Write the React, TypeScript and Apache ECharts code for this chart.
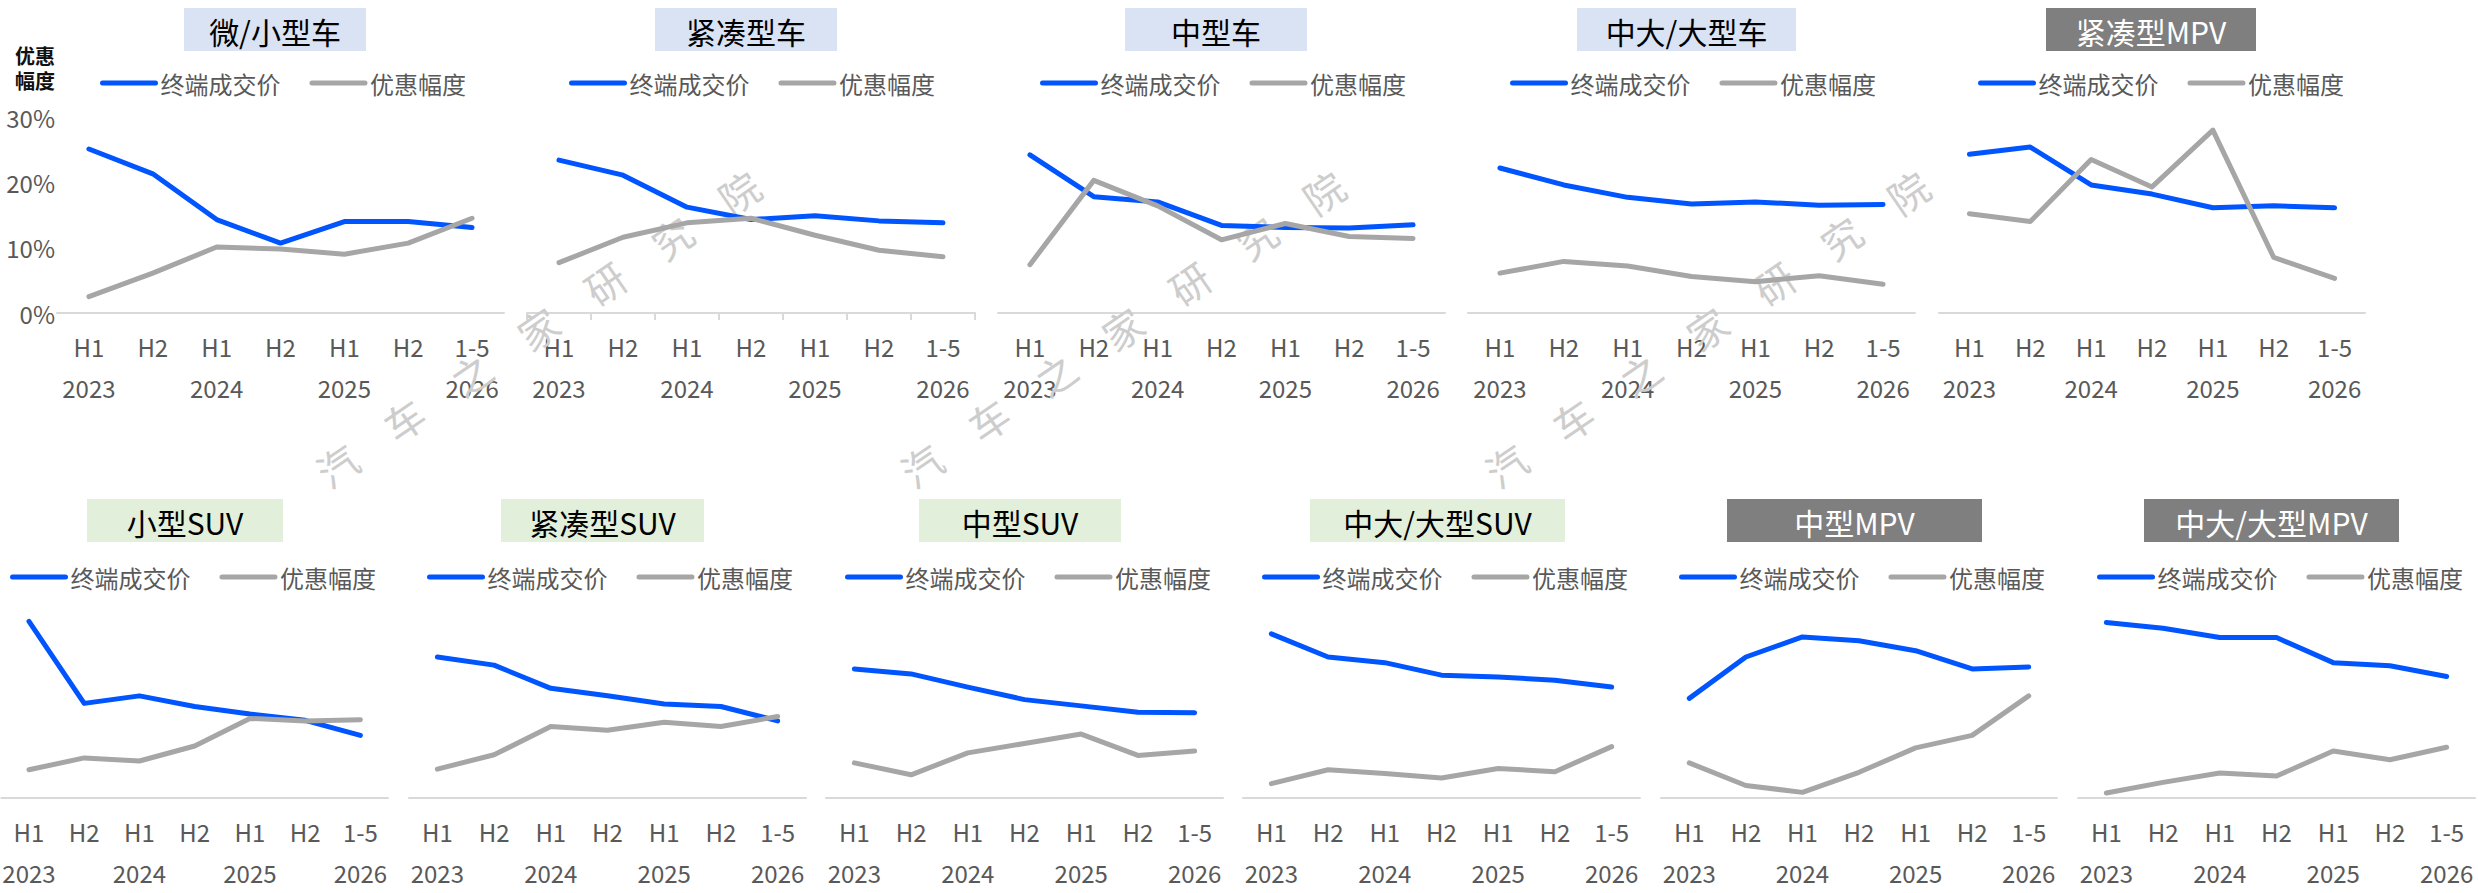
import React, { useEffect, useRef } from 'react';
import * as echarts from 'echarts';

// ---------- data ----------
const periods = ['H1', 'H2', 'H1', 'H2', 'H1', 'H2', '1-5'];
const years = ['2023', '', '2024', '', '2025', '', '2026'];
const yTicks = [0, 10, 20, 30];

const segmentNames = [
  '微/小型车', '紧凑型车', '中型车', '中大/大型车', '紧凑型MPV',
  '小型SUV', '紧凑型SUV', '中型SUV', '中大/大型SUV', '中型MPV', '中大/大型MPV',
];

// 终端成交价 (blue) and 优惠幅度 (gray), in the chart's % units
const priceMicroCar = [25.1, 21.3, 14.3, 10.7, 14.0, 14.0, 13.1];
const discountMicroCar = [2.5, 6.1, 10.1, 9.8, 9.0, 10.7, 14.5];
const priceCompactCar = [23.4, 21.1, 16.2, 14.3, 14.9, 14.1, 13.8];
const discountCompactCar = [7.7, 11.6, 13.8, 14.5, 11.9, 9.6, 8.6];
const priceMidCar = [24.2, 17.8, 17.0, 13.4, 13.1, 13.0, 13.5];
const discountMidCar = [7.4, 20.3, 16.4, 11.2, 13.7, 11.7, 11.4];
const priceLargeCar = [22.2, 19.6, 17.7, 16.7, 17.0, 16.5, 16.6];
const discountLargeCar = [6.1, 7.9, 7.2, 5.6, 4.8, 5.7, 4.4];
const priceCompactMPV = [24.3, 25.4, 19.6, 18.2, 16.1, 16.4, 16.1];
const discountCompactMPV = [15.2, 14.0, 23.5, 19.3, 28.0, 8.5, 5.3];
const priceSmallSUV = [28.2, 15.1, 16.3, 14.6, 13.4, 12.4, 10.0];
const discountSmallSUV = [4.5, 6.4, 5.9, 8.3, 12.7, 12.3, 12.5];
const priceCompactSUV = [22.5, 21.2, 17.5, 16.3, 15.0, 14.6, 12.3];
const discountCompactSUV = [4.6, 6.9, 11.4, 10.8, 12.1, 11.4, 13.0];
const priceMidSUV = [20.6, 19.8, 17.7, 15.7, 14.7, 13.7, 13.6];
const discountMidSUV = [5.6, 3.7, 7.2, 8.7, 10.2, 6.8, 7.5];
const priceLargeSUV = [26.2, 22.5, 21.6, 19.6, 19.3, 18.8, 17.7];
const discountLargeSUV = [2.3, 4.5, 3.9, 3.2, 4.7, 4.2, 8.2];
const priceMidMPV = [15.9, 22.5, 25.7, 25.1, 23.5, 20.6, 20.9];
const discountMidMPV = [5.6, 2.0, 0.9, 4.1, 8.0, 10.0, 16.3];
const priceLargeMPV = [28.0, 27.1, 25.6, 25.6, 21.6, 21.1, 19.4];
const discountLargeMPV = [0.8, 2.5, 4.0, 3.5, 7.5, 6.1, 8.1];

const priceSeries = [
  priceMicroCar, priceCompactCar, priceMidCar, priceLargeCar, priceCompactMPV,
  priceSmallSUV, priceCompactSUV, priceMidSUV, priceLargeSUV, priceMidMPV, priceLargeMPV,
];
const discountSeries = [
  discountMicroCar, discountCompactCar, discountMidCar, discountLargeCar, discountCompactMPV,
  discountSmallSUV, discountCompactSUV, discountMidSUV, discountLargeSUV, discountMidMPV, discountLargeMPV,
];

const priceName = '终端成交价';
const discountName = '优惠幅度';
const watermarkChars = ['汽', '车', '之', '家', '研', '究', '院'];

// ---------- layout / style ----------
const FONT = '"Microsoft YaHei", "Noto Sans CJK SC", sans-serif';
const BLUE = '#0055FF';
const GRAY = '#A6A6A6';
const LABEL = '#595959';
const AXIS = '#D9D9D9';

const panels = [
  { row: 0, left: 57, width: 447, legend: 100, title: [184, 366], theme: 'car', ticks: false },
  { row: 0, left: 527, width: 448, legend: 569, title: [655, 837], theme: 'car', ticks: true },
  { row: 0, left: 998, width: 447, legend: 1040, title: [1125, 1307], theme: 'car', ticks: false },
  { row: 0, left: 1468, width: 447, legend: 1510, title: [1577, 1796], theme: 'car', ticks: false },
  { row: 0, left: 1939, width: 426, legend: 1978, title: [2046, 2256], theme: 'mpv', ticks: false },
  { row: 1, left: -8, width: 396, legend: 10, title: [87, 283], theme: 'suv', ticks: false },
  { row: 1, left: 409, width: 397, legend: 427, title: [501, 704], theme: 'suv', ticks: false },
  { row: 1, left: 826, width: 397, legend: 845, title: [919, 1121], theme: 'suv', ticks: false },
  { row: 1, left: 1243, width: 397, legend: 1262, title: [1310, 1565], theme: 'suv', ticks: false },
  { row: 1, left: 1661, width: 396, legend: 1679, title: [1727, 1982], theme: 'mpv', ticks: false },
  { row: 1, left: 2078, width: 397, legend: 2097, title: [2144, 2399], theme: 'mpv', ticks: false },
];
const rows = [
  { gridTop: 117, legendTop: 71, titleTop: 8 },
  { gridTop: 610, legendTop: 565, titleTop: 499 },
];
const GRID_H = 196;
const TITLE_H = 43;
const themes: Record<string, { bg: string; fg: string }> = {
  car: { bg: '#DAE3F3', fg: '#000000' },
  suv: { bg: '#E2EFDA', fg: '#000000' },
  mpv: { bg: '#7F7F7F', fg: '#FFFFFF' },
};

function buildOption() {
  const grid: any[] = [];
  const xAxis: any[] = [];
  const yAxis: any[] = [];
  const series: any[] = [];
  const legend: any[] = [];
  const graphic: any[] = [];

  panels.forEach((p, i) => {
    const r = rows[p.row];
    grid.push({ left: p.left, top: r.gridTop, width: p.width, height: GRID_H, containLabel: false });
    xAxis.push({
      type: 'category',
      gridIndex: i,
      data: periods,
      boundaryGap: true,
      axisLine: { show: true, lineStyle: { color: AXIS, width: 2 } },
      axisTick: { show: p.ticks, length: 7, lineStyle: { color: AXIS, width: 2 } },
      axisLabel: {
        interval: 0,
        margin: 13,
        fontSize: 24,
        lineHeight: 41,
        color: LABEL,
        fontFamily: FONT,
        formatter: (v: string, idx: number) => (years[idx] ? `${v}\n${years[idx]}` : v),
      },
      splitLine: { show: false },
    });
    yAxis.push({
      type: 'value',
      gridIndex: i,
      min: yTicks[0],
      max: yTicks[yTicks.length - 1],
      interval: 10,
      show: i === 0,
      axisLine: { show: false },
      axisTick: { show: false },
      splitLine: { show: false },
      axisLabel: {
        show: i === 0,
        margin: 2,
        fontSize: 24,
        color: LABEL,
        fontFamily: FONT,
        formatter: '{value}%',
      },
    });
    const lineCommon = {
      type: 'line',
      xAxisIndex: i,
      yAxisIndex: i,
      symbol: 'none',
      showSymbol: false,
      silent: true,
      z: 3,
    };
    series.push({
      ...lineCommon,
      name: priceName,
      data: priceSeries[i],
      color: BLUE,
      lineStyle: { color: BLUE, width: 5, cap: 'round', join: 'round' },
    });
    series.push({
      ...lineCommon,
      name: discountName,
      data: discountSeries[i],
      color: GRAY,
      lineStyle: { color: GRAY, width: 5, cap: 'round', join: 'round' },
    });
    legend.push({
      left: p.legend,
      top: r.legendTop,
      padding: 0,
      itemWidth: 53,
      itemHeight: 24,
      itemGap: 29,
      selectedMode: false,
      data: [priceName, discountName],
      itemStyle: { opacity: 0, borderWidth: 0 },
      lineStyle: { width: 5, cap: 'round' },
      textStyle: { fontSize: 24, color: LABEL, fontFamily: FONT },
    });
    const th = themes[p.theme];
    graphic.push({
      type: 'rect',
      z: 10,
      shape: { x: p.title[0], y: r.titleTop, width: p.title[1] - p.title[0], height: TITLE_H },
      style: { fill: th.bg },
    });
    graphic.push({
      type: 'text',
      z: 11,
      x: (p.title[0] + p.title[1]) / 2,
      y: r.titleTop + TITLE_H / 2 + 1,
      style: {
        text: segmentNames[i],
        fill: th.fg,
        fontSize: 30,
        fontFamily: FONT,
        align: 'center',
        verticalAlign: 'middle',
      },
    });
  });

  graphic.push({
    type: 'text',
    z: 11,
    x: 35,
    y: 68,
    style: {
      text: '优惠\n幅度',
      fill: '#111111',
      fontSize: 20,
      lineHeight: 25,
      fontWeight: 'bold',
      fontFamily: FONT,
      align: 'center',
      verticalAlign: 'middle',
    },
  });

  [0, 1, 2].forEach((g) => {
    watermarkChars.forEach((ch, k) => {
      graphic.push({
        type: 'text',
        z: 1,
        silent: true,
        x: 337 + g * 584.5 + k * 67,
        y: 465 - k * 45.5,
        rotation: 0.6,
        style: {
          text: ch,
          fill: '#CDCDCD',
          fontSize: 40,
          fontFamily: FONT,
          align: 'center',
          verticalAlign: 'middle',
        },
      });
    });
  });

  return {
    animation: false,
    backgroundColor: '#FFFFFF',
    grid,
    xAxis,
    yAxis,
    series,
    legend,
    graphic,
  };
}

export default function App() {
  const ref = useRef<HTMLDivElement>(null);
  useEffect(() => {
    if (!ref.current) return;
    const chart = echarts.init(ref.current, null, { renderer: 'svg' });
    chart.setOption(buildOption() as any);
    return () => chart.dispose();
  }, []);
  return (
    <div
      ref={ref}
      style={{ position: 'absolute', left: 0, top: 0, width: 2478, height: 893, background: '#fff' }}
    />
  );
}
